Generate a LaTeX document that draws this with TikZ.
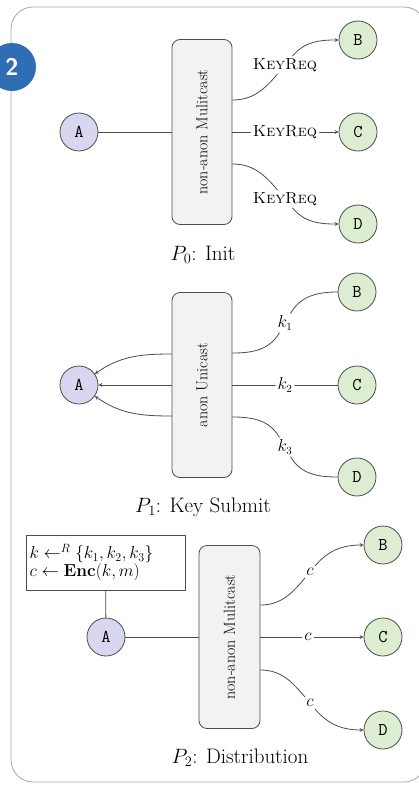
\documentclass[tikz,border=0pt]{standalone}
\definecolor{alicefill}{HTML}{D8D7F0}
\definecolor{peerfill}{HTML}{DCEDD2}
\definecolor{badge}{HTML}{2F6DB5}
\begin{document}
\begin{tikzpicture}[x=1pt, y=1pt, line join=round, line cap=round, >=stealth, line width=.8pt,
	party/.style={circle, draw=black!70, minimum size=38pt, inner sep=0pt, font=\fontsize{18}{20}\selectfont\ttfamily},
	alice/.style={party, fill=alicefill},
	peer/.style={party, fill=peerfill},
	kenh/.style={draw=black!70, fill=black!5, rounded corners=8pt, minimum width=60pt, minimum height=185pt},
	nhan/.style={inner sep=2pt, font=\fontsize{16}{19}\selectfont},
	tieude/.style={font=\fontsize{21}{25}\selectfont}]
	\clip (0,0) rectangle (419,-785);
	\def\xA{79} % cot A
	\def\xK{202} % cot kenh
	\def\xL{285} % cot nhan
	\def\xN{358} % cot B, C, D
	% khung
	\draw[black!35, rounded corners=22pt] (11,-7) rectangle (426,-782);
	\node[circle, fill=badge, minimum size=48pt, text=white, font=\fontsize{24}{28}\selectfont\sffamily\bfseries] (so) at (12,-67) {2};
	% P0: Init
	\node[alice] (A0) at (\xA,-132) {A};
	\node[kenh] (K0) at (\xK,-132) {};
	\node[nhan, rotate=90] at (K0) {non-anon Mulitcast};
	\node[peer] (B0) at (\xN,-40) {B};
	\node[peer] (C0) at (\xN,-132) {C};
	\node[peer] (D0) at (\xN,-224) {D};
	\node[nhan, font=\fontsize{16}{19}\selectfont\scshape] (r0b) at (\xL,-65) {KeyReq};
	\node[nhan, font=\fontsize{16}{19}\selectfont\scshape] (r0c) at (\xL,-132) {KeyReq};
	\node[nhan, font=\fontsize{16}{19}\selectfont\scshape] (r0d) at (\xL,-199) {KeyReq};
	\node[tieude] (t0) at (203,-255) {$P_0$: Init};
	% P1: Key Submit
	\node[alice] (A1) at (\xA,-385) {A};
	\node[kenh] (K1) at (\xK,-385) {};
	\node[nhan, rotate=90] at (K1) {anon Unicast};
	\node[peer] (B1) at (357,-292) {B};
	\node[peer] (C1) at (357,-385) {C};
	\node[peer] (D1) at (357,-477) {D};
	\node[nhan] (k1) at (\xL,-323) {$k_1$};
	\node[nhan] (k2) at (\xL,-385) {$k_2$};
	\node[nhan] (k3) at (\xL,-447) {$k_3$};
	\node[tieude] (t1) at (203,-507) {$P_1$: Key Submit};
	% P2: Distribution
	\node[draw=black!70, fill=white, align=left, text width=152pt, minimum height=55pt, inner sep=3.5pt, font=\fontsize{17}{18}\selectfont] (rule) at (105.5,-562.5) {$k \leftarrow^{R} \{k_1, k_2, k_3\}$\\$c \leftarrow \mathbf{Enc}(k, m)$};
	\node[alice] (A2) at (106,-637) {A};
	\node[kenh, minimum width=61pt, minimum height=183pt] (K2) at (229.5,-637) {};
	\node[nhan, rotate=90] at (K2) {non-anon Mulitcast};
	\node[peer] (B2) at (383,-545) {B};
	\node[peer] (C2) at (383,-637) {C};
	\node[peer] (D2) at (383,-730) {D};
	\node[nhan] (c2b) at (310,-572) {$c$};
	\node[nhan] (c2c) at (308,-637) {$c$};
	\node[nhan] (c2d) at (310,-703) {$c$};
	\node[tieude] (t2) at (240,-758) {$P_2$: Distribution};
	% duong noi
	\begin{scope}[black!70]
	\draw (A0)--(K0.west);
	\draw ([yshift=32pt]K0.east) to[out=0,in=-130] (r0b);
	\draw[->] (r0b) to[out=50,in=180] (B0);
	\draw (K0.east)--(r0c);
	\draw[->] (r0c)--(C0);
	\draw ([yshift=-32pt]K0.east) to[out=0,in=130] (r0d);
	\draw[->] (r0d) to[out=-50,in=180] (D0);
	\draw[->] ([yshift=31pt]K1.west) to[out=180,in=35] (A1);
	\draw[->] (K1.west)--(A1);
	\draw[->] ([yshift=-31pt]K1.west) to[out=180,in=-35] (A1);
	\draw ([yshift=32pt]K1.east) to[out=0,in=-120] (k1);
	\draw (k1) to[out=60,in=180] (B1);
	\draw (K1.east)--(k2)--(C1);
	\draw ([yshift=-32pt]K1.east) to[out=0,in=120] (k3);
	\draw (k3) to[out=-60,in=180] (D1);
	\draw (rule)--(A2);
	\draw (A2)--(K2.west);
	\draw ([yshift=32pt]K2.east) to[out=0,in=-130] (c2b);
	\draw[->] (c2b) to[out=50,in=180] (B2);
	\draw (K2.east)--(c2c);
	\draw[->] (c2c)--(C2);
	\draw ([yshift=-33pt]K2.east) to[out=0,in=130] (c2d);
	\draw[->] (c2d) to[out=-50,in=180] (D2);
	\end{scope}
\end{tikzpicture}
\end{document}
